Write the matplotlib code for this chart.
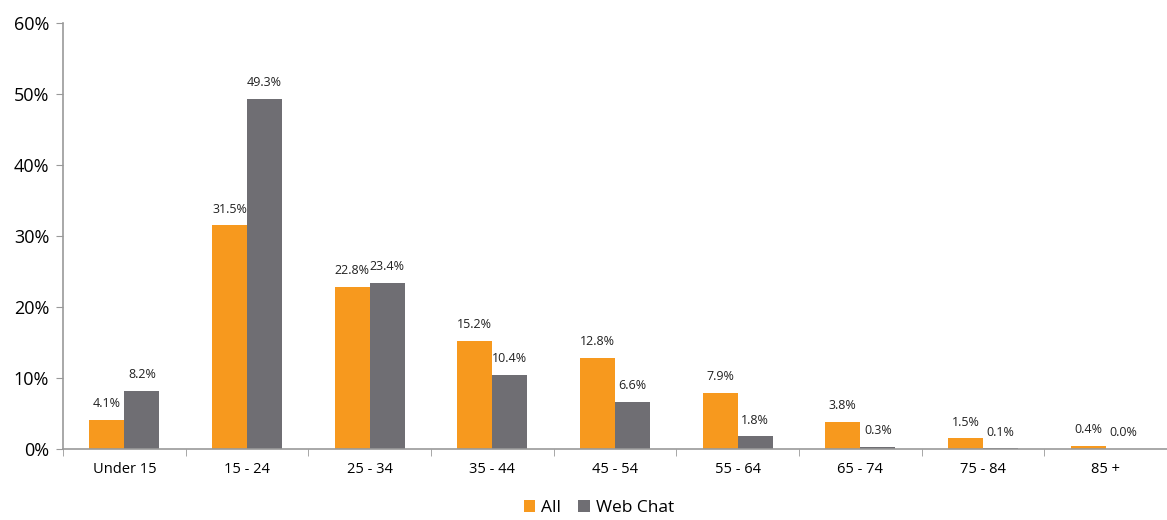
import matplotlib
matplotlib.use("Agg")
import matplotlib.pyplot as plt
import numpy as np
from matplotlib.ticker import FuncFormatter, FixedLocator

plt.rcParams['font.family'] = ['Open Sans', 'DejaVu Sans']

categories = ["Under 15", "15 - 24", "25 - 34", "35 - 44", "45 - 54",
              "55 - 64", "65 - 74", "75 - 84", "85 +"]
all_vals = [4.1, 31.5, 22.8, 15.2, 12.8, 7.9, 3.8, 1.5, 0.4]
webchat_vals = [8.2, 49.3, 23.4, 10.4, 6.6, 1.8, 0.3, 0.1, 0.0]
series_names = ["All", "Web Chat"]

orange = "#F7991E"
grey = "#6F6E73"
axis_grey = "#999999"

fig = plt.figure(figsize=(11.67, 5.2), dpi=100)
ax = fig.add_axes([0.054, 0.1365, 0.946, 0.8193])

x = np.arange(len(categories))
w = 0.285
b1 = ax.bar(x - w / 2, all_vals, w, color=orange, label=series_names[0])
b2 = ax.bar(x + w / 2, webchat_vals, w, color=grey, label=series_names[1])

for bars, vals in ((b1, all_vals), (b2, webchat_vals)):
    for rect, v in zip(bars, vals):
        ax.annotate(f"{v:.1f}%", (rect.get_x() + rect.get_width() / 2, v),
                    xytext=(0, 7), textcoords="offset points",
                    ha="center", va="bottom", fontsize=9, color="#222222")

ax.set_xlim(-0.5, len(categories) - 0.5)
ax.set_ylim(0, 60)
ax.set_yticks(np.arange(0, 61, 10))
ax.yaxis.set_major_formatter(FuncFormatter(lambda v, _: f"{v:.0f}%"))
ax.tick_params(axis="y", labelsize=13, length=5, color=axis_grey, pad=5)

# category labels centred, tick marks between groups
ax.set_xticks(x)
ax.set_xticklabels(categories, fontsize=10.5)
ax.tick_params(axis="x", which="major", length=0, pad=9)
ax.xaxis.set_minor_locator(FixedLocator(np.arange(-0.5, len(categories), 1.0)))
ax.tick_params(axis="x", which="minor", length=5, color=axis_grey)

for side in ("top", "right"):
    ax.spines[side].set_visible(False)
for side in ("left", "bottom"):
    ax.spines[side].set_color(axis_grey)
    ax.spines[side].set_linewidth(1.2)

fig.legend(handles=[b1, b2], labels=series_names, loc="lower center",
           bbox_to_anchor=(0.513, -0.022), ncol=2, frameon=False,
           fontsize=12.5, handlelength=0.65, handleheight=0.65,
           handletextpad=0.35, columnspacing=1.0)

fig.savefig("out.png", dpi=100)
